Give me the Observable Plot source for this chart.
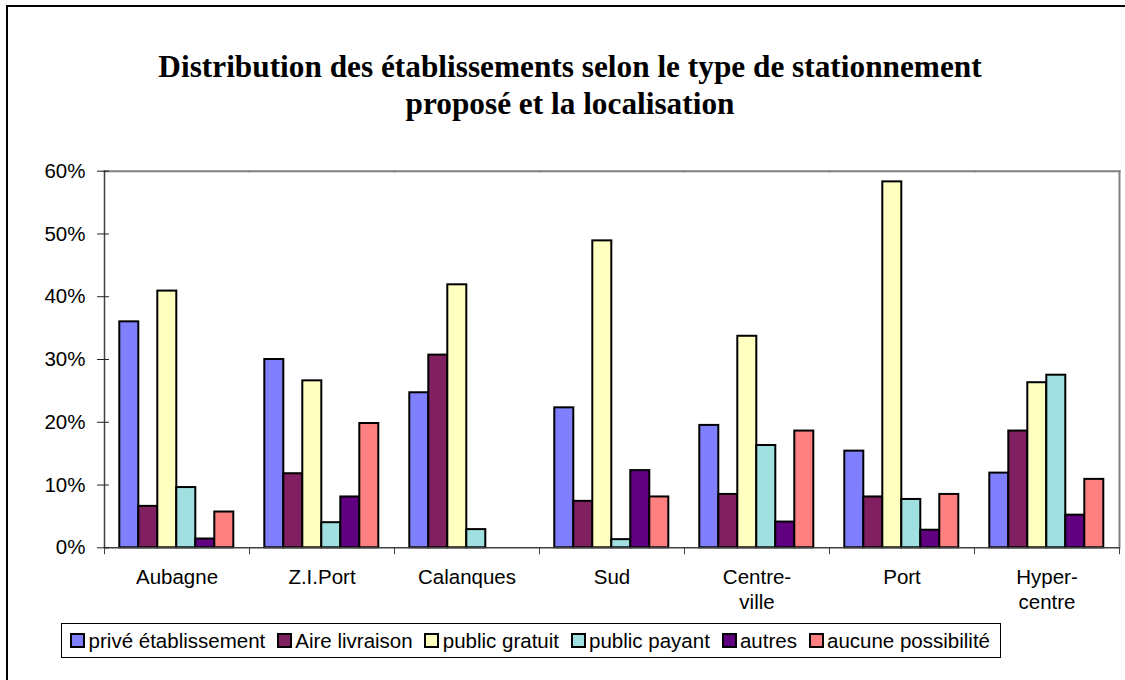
<!DOCTYPE html>
<html>
<head>
<meta charset="utf-8">
<script src="https://cdn.jsdelivr.net/npm/d3@7"></script>
<script src="https://cdn.jsdelivr.net/npm/@observablehq/plot@0.6"></script>
<style>
  html, body { margin: 0; padding: 0; background: #fff; overflow: hidden; width: 1125px; height: 680px; }
  #frame { position: absolute; left: 6px; top: 5px; width: 1140px; height: 700px; border: 2px solid #000; box-sizing: border-box; }
  #title { position: absolute; left: 0; top: 48px; width: 1140px; text-align: center;
           font-family: "Liberation Serif", "Times New Roman", serif; font-weight: bold; font-size: 31.3px; line-height: 37px; color: #000; }
  #chart { position: absolute; left: 0; top: 0; }
  #legend { position: absolute; right: 124px; top: 623px; height: 35px; box-sizing: border-box; border: 1px solid #000;
            display: flex; align-items: center; padding: 0 10px 0 8px; background: #fff;
            font-family: "Liberation Sans", Arial, sans-serif; font-size: 20.5px; color: #000; white-space: nowrap; }
  .item { display: flex; align-items: center; margin-right: 11.7px; }
  .item:last-child { margin-right: 0; }
  .sw { width: 15px; height: 15px; box-sizing: border-box; border: 2px solid #000; margin-right: 3.4px; }
</style>
</head>
<body>
<div id="frame"></div>
<div id="title">Distribution des établissements selon le type de stationnement<br>proposé et la localisation</div>
<div id="chart"></div>
<div id="legend"></div>
<script>
// ---- data ----
const locations = ["Aubagne", "Z.I.Port", "Calanques", "Sud", "Centre-ville", "Port", "Hyper-centre"];
const locationLabels = ["Aubagne", "Z.I.Port", "Calanques", "Sud", "Centre-\nville", "Port", "Hyper-\ncentre"];
const series = ["privé établissement", "Aire livraison", "public gratuit", "public payant", "autres", "aucune possibilité"];
const colors = ["#8080FF", "#802060", "#FFFFC0", "#A0E0E0", "#600080", "#FF8080"];

const priveEtablissement = [36.0, 30.0, 24.7, 22.3, 19.5, 15.4, 11.9];
const aireLivraison      = [6.6, 11.8, 30.7, 7.4, 8.5, 8.1, 18.6];
const publicGratuit      = [40.9, 26.6, 41.9, 48.9, 33.7, 58.3, 26.3];
const publicPayant       = [9.6, 4.0, 2.9, 1.3, 16.3, 7.7, 27.5];
const autres             = [1.4, 8.1, 0, 12.3, 4.1, 2.8, 5.2];
const aucunePossibilite  = [5.7, 19.8, 0, 8.1, 18.6, 8.5, 10.9];

const yTicks = [0, 10, 20, 30, 40, 50, 60];

// ---- build table ----
const seriesValues = [priveEtablissement, aireLivraison, publicGratuit, publicPayant, autres, aucunePossibilite];
const data = [];
locations.forEach((loc, i) => {
  series.forEach((s, j) => {
    data.push({location: loc, series: s, value: seriesValues[j][i]});
  });
});
const labelOf = new Map(locations.map((l, i) => [l, locationLabels[i]]));

const W = 1125, H = 622, mT = 170.7, mB = 74.7, mL = 100.7, mR = 2.7;
const innerH = H - mT - mB;

const chart = Plot.plot({
  width: W,
  height: H,
  marginTop: mT,
  marginBottom: mB,
  marginLeft: mL,
  marginRight: mR,
  style: {fontFamily: "'Liberation Sans', Arial, sans-serif", fontSize: "20.5px", color: "#000", background: "transparent"},
  fx: {domain: locations, padding: 0, axis: null, label: null},
  x: {domain: series, paddingInner: 0, paddingOuter: 0.75, axis: null},
  y: {domain: [0, 60], axis: null, label: null},
  color: {domain: series, range: colors},
  marks: [
    Plot.frame({anchor: "top", stroke: "#808080", strokeWidth: 2}),
    Plot.frame({anchor: "right", facetAnchor: "right", stroke: "#808080", strokeWidth: 2}),
    Plot.barY(data.filter(d => d.value > 0), {fx: "location", x: "series", y: "value", fill: "series", stroke: "#000", strokeWidth: 2}),
    Plot.ruleY([0], {stroke: "#404040", strokeWidth: 1.5}),
    Plot.frame({anchor: "left", facetAnchor: "left", stroke: "#404040", strokeWidth: 1.5}),
    Plot.frame({anchor: "left", insetTop: innerH, insetBottom: -6, stroke: "#404040", strokeWidth: 1}),
    Plot.frame({anchor: "right", facetAnchor: "right", insetTop: innerH, insetBottom: -6, stroke: "#404040", strokeWidth: 1}),
    Plot.axisY(yTicks, {tickSize: 12, dx: 5, tickPadding: 12, tickFormat: d => `${d}%`, stroke: "#222", label: null, fontSize: 20.5}),
    Plot.axisFx({anchor: "bottom", tickSize: 0, tickPadding: 19, tickFormat: d => labelOf.get(d), lineHeight: 1.2, fontSize: 20.5, label: null})
  ]
});
document.getElementById("chart").appendChild(chart);

// ---- legend ----
const legend = document.getElementById("legend");
series.forEach((s, j) => {
  const item = document.createElement("div");
  item.className = "item";
  const sw = document.createElement("span");
  sw.className = "sw";
  sw.style.background = colors[j];
  const t = document.createElement("span");
  t.textContent = s;
  item.appendChild(sw);
  item.appendChild(t);
  legend.appendChild(item);
});
</script>
</body>
</html>
